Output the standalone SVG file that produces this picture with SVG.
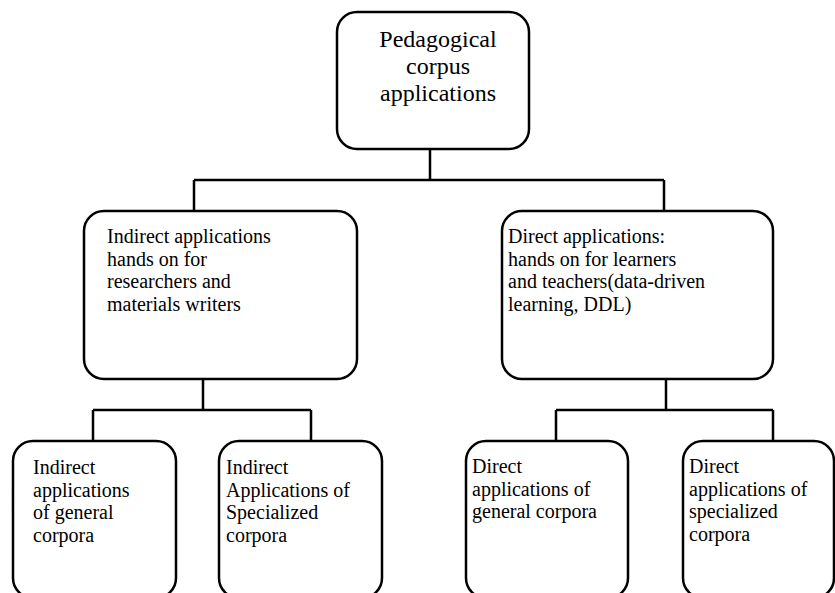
<svg xmlns="http://www.w3.org/2000/svg" width="835" height="593" viewBox="0 0 835 593">
<style>
.box{fill:#fff;stroke:#000;stroke-width:2.5}
.ln{fill:none;stroke:#000;stroke-width:2.5}
.t{font-family:'Liberation Serif','Times New Roman',Times,'DejaVu Serif',serif;font-size:20px;fill:#000}
.tt{font-family:'Liberation Serif','Times New Roman',Times,'DejaVu Serif',serif;font-size:24px;fill:#000;text-anchor:middle}
</style>
<rect width="835" height="593" fill="#fff"/>
<g id="connectors">
<path class="ln" d="M430 149V180M194 180H664M194 180V211M664 180V211"/>
<path class="ln" d="M203 379V410M93 410H311M93 410V441M311 410V441"/>
<path class="ln" d="M666 379V410M556 410H773M556 410V441M773 410V441"/>
</g>
<g id="root">
<rect class="box" x="337" y="12" width="192" height="137" rx="20"/>
<text class="tt" x="438" y="47">Pedagogical</text>
<text class="tt" x="438" y="74">corpus</text>
<text class="tt" x="438" y="101">applications</text>
</g>
<g id="indirect">
<rect class="box" x="84" y="211" width="273" height="168" rx="20"/>
<text class="t" x="107" y="243">Indirect applications</text>
<text class="t" x="107" y="266">hands on for</text>
<text class="t" x="107" y="288">researchers and</text>
<text class="t" x="107" y="311">materials writers</text>
</g>
<g id="direct">
<rect class="box" x="502" y="211" width="271" height="168" rx="20"/>
<text class="t" x="508" y="243">Direct applications:</text>
<text class="t" x="508" y="266">hands on for learners</text>
<text class="t" x="508" y="288">and teachers(data-driven</text>
<text class="t" x="508" y="311">learning, DDL)</text>
</g>
<g id="indirect-general">
<rect class="box" x="13" y="441" width="163" height="157" rx="20"/>
<text class="t" x="33" y="474">Indirect</text>
<text class="t" x="33" y="497">applications</text>
<text class="t" x="33" y="519">of general</text>
<text class="t" x="33" y="542">corpora</text>
</g>
<g id="indirect-specialized">
<rect class="box" x="219" y="441" width="163" height="157" rx="20"/>
<text class="t" x="226" y="474">Indirect</text>
<text class="t" x="226" y="497">Applications of</text>
<text class="t" x="226" y="519">Specialized</text>
<text class="t" x="226" y="542">corpora</text>
</g>
<g id="direct-general">
<rect class="box" x="466" y="441" width="162" height="157" rx="20"/>
<text class="t" x="472" y="473">Direct</text>
<text class="t" x="472" y="496">applications of</text>
<text class="t" x="472" y="518">general corpora</text>
</g>
<g id="direct-specialized">
<rect class="box" x="683" y="441" width="151" height="157" rx="20"/>
<text class="t" x="689" y="473">Direct</text>
<text class="t" x="689" y="496">applications of</text>
<text class="t" x="689" y="518">specialized</text>
<text class="t" x="689" y="541">corpora</text>
</g>
</svg>
